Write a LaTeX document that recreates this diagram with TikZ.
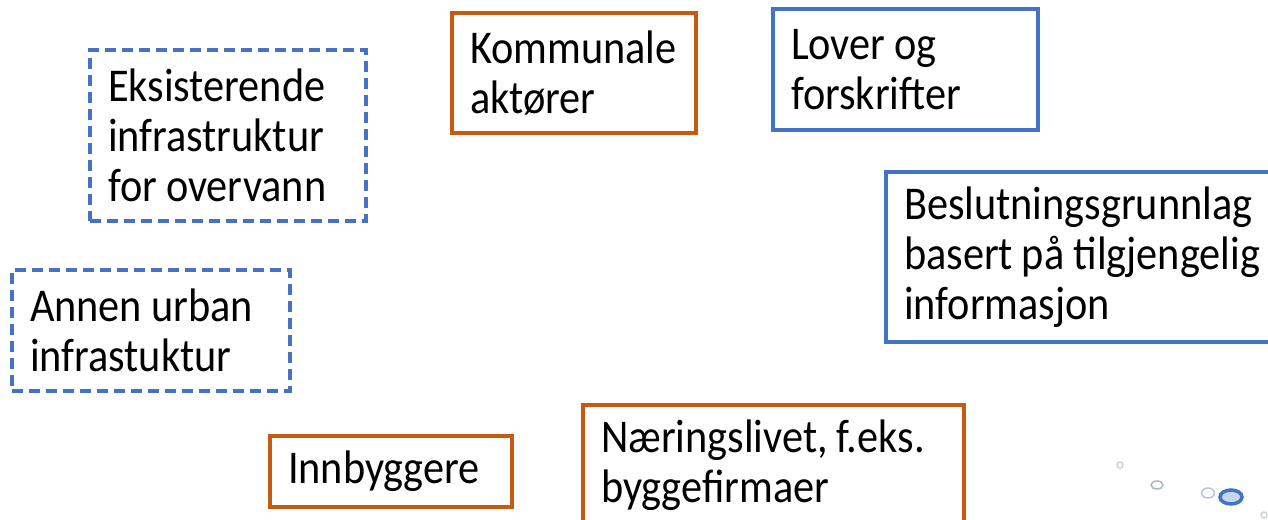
\documentclass[tikz,border=0pt]{standalone}
\usepackage{fontspec}
\setmainfont[FakeStretch=0.9]{Carlito}
\definecolor{orng}{HTML}{C55A11}
\definecolor{blu}{HTML}{4472C4}
\definecolor{bub}{HTML}{A9B8CC}
\begin{document}
\begin{tikzpicture}[x=1pt,y=-1pt,
  box/.style={draw, line width=4pt, rectangle, anchor=north west, inner xsep=18pt, inner ysep=0pt,
    align=left, font=\fontsize{47}{50}\selectfont, text=black,
    execute at begin node={\spaceskip=9pt\relax}},
  orbox/.style={box, draw=orng},
  blbox/.style={box, draw=blu},
  dbox/.style={box, draw=blu, dash pattern=on 11pt off 6pt, line cap=butt},
  bubble/.style={draw=bub, line width=1.5pt}]
\useasboundingbox (0,0) rectangle (1268,519);
\node[dbox, minimum width=276pt, minimum height=171pt, text width=240pt] (eks) at (88,48) {Eksisterende\\infrastruktur\\for overvann};
\node[dbox, minimum width=278pt, minimum height=121pt, text width=242pt] (annen) at (10,268) {Annen urban\\infrastuktur};
\node[orbox, minimum width=244pt, minimum height=120pt, text width=208pt] (komm) at (450,11) {Kommunale\\aktører};
\node[blbox, minimum width=265pt, minimum height=121pt, text width=229pt] (lover) at (771,7) {Lover og\\forskrifter};
\node[blbox, minimum width=406pt, minimum height=170pt, text width=370pt] (besl) at (884,170) {Beslutningsgrunnlag\\basert på tilgjengelig\\informasjon};
\node[orbox, minimum width=242pt, minimum height=71pt, text width=206pt] (innb) at (268,434) {Innbyggere};
\node[orbox, minimum width=381pt, minimum height=120pt, text width=345pt] (naer) at (581,403) {Næringslivet, f.eks.\\byggefirmaer};
% decorative bubbles
\draw[bubble, draw=bub!60] (1120,465) circle (3pt);
\draw[bubble] (1157,485) ellipse (6pt and 4pt);
\draw[bubble, draw=bub!80] (1208,493) ellipse (6.5pt and 5pt);
\draw[draw=blu, line width=3.5pt, fill=blu!30] (1231,497) ellipse (11pt and 7pt);
\draw[bubble, draw=bub!60] (1264,515) circle (3pt);
\end{tikzpicture}
\end{document}
